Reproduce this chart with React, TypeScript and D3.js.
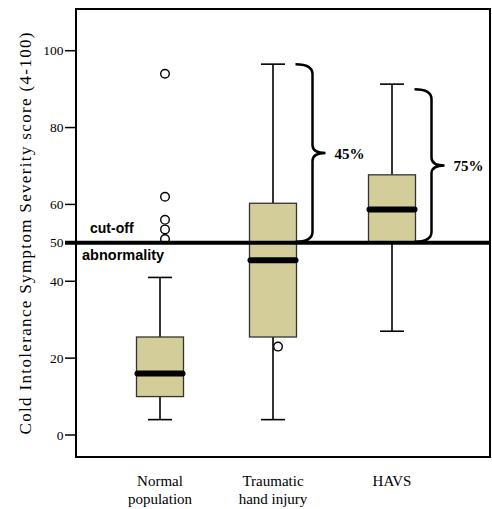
import React from "react";
import * as d3 from "d3";

const categories = ["Normal population", "Traumatic hand injury", "HAVS"];
const categoryLines = [["Normal", "population"], ["Traumatic", "hand injury"], ["HAVS"]];
const whiskerLow = [4, 4, 27];
const q1 = [10, 25.5, 50.3];
const median = [16, 45.5, 58.7];
const q3 = [25.5, 60.3, 67.7];
const whiskerHigh = [41, 96.5, 91.3];
const outliers = [[94, 62, 56, 53.5, 51], [23], []];
const yTicks = [0, 20, 40, 50, 60, 80, 100];
const cutoff = 50;
const braces = [
  { cat: 1, low: 50, high: 96.5, label: "45%" },
  { cat: 2, low: 50, high: 90, label: "75%" },
];

const SERIF = "'Liberation Serif', 'Times New Roman', Times, serif";
const SANS = "'Liberation Sans', Arial, Helvetica, sans-serif";

export default function App() {
  const W = 492, H = 509;
  const left = 76, right = 490, top = 9, bottom = 457;
  const y = d3.scaleLinear().domain([0, 100]).range([435, 50.7]);
  const x = d3.scaleOrdinal<string, number>().domain(categories).range([160, 273, 392]);
  const bw = 47;
  const capW = 24;

  const bracePath = (x0: number, yTop: number, yBot: number, xv: number, xt: number) => {
    const ym = (yTop + yBot) / 2;
    const r = 10;
    const p = d3.path();
    p.moveTo(x0, yTop);
    p.quadraticCurveTo(xv, yTop, xv, yTop + r);
    p.lineTo(xv, ym - r * 0.8);
    p.quadraticCurveTo(xv, ym, xt, ym);
    p.quadraticCurveTo(xv, ym, xv, ym + r * 0.8);
    p.lineTo(xv, yBot - r);
    p.quadraticCurveTo(xv, yBot, x0, yBot);
    return p.toString();
  };

  return (
    <svg width={W} height={H} style={{ position: "absolute", left: 0, top: 0 }}>
      <rect x={0} y={0} width={W} height={H} fill="white" />
      <path d={`M${left},${top}H${right}V${bottom}H${left}Z`} fill="none" stroke="black" strokeWidth={2} />
      {yTicks.map((t) => (
        <g key={t}>
          <line x1={left - 11} x2={left} y1={y(t)} y2={y(t)} stroke="black" strokeWidth={1.5} />
          <text x={left - 12.5} y={y(t) + 4.5} textAnchor="end" style={{ fontFamily: SERIF }} fontSize={13.5}>
            {t}
          </text>
        </g>
      ))}
      <text
        transform={`translate(31,233.5) rotate(-90)`}
        textAnchor="middle"
        style={{ fontFamily: SERIF }}
        fontSize={17}
        textLength={402}
        lengthAdjust="spacing"
      >
        Cold Intolerance Symptom Severity score (4-100)
      </text>
      {categories.map((c, i) => {
        const cx = x(c);
        return (
          <g key={c}>
            <line x1={cx} x2={cx} y1={y(whiskerLow[i])} y2={y(q1[i])} stroke="black" strokeWidth={1.6} />
            <line x1={cx} x2={cx} y1={y(q3[i])} y2={y(whiskerHigh[i])} stroke="black" strokeWidth={1.6} />
            <line x1={cx - capW / 2} x2={cx + capW / 2} y1={y(whiskerLow[i])} y2={y(whiskerLow[i])} stroke="black" strokeWidth={1.6} />
            <line x1={cx - capW / 2} x2={cx + capW / 2} y1={y(whiskerHigh[i])} y2={y(whiskerHigh[i])} stroke="black" strokeWidth={1.6} />
            <rect x={cx - bw / 2} y={y(q3[i])} width={bw} height={y(q1[i]) - y(q3[i])} fill="#d3cd9a" stroke="#333" strokeWidth={1.3} />
            {outliers[i].map((o, j) => (
              <circle key={j} cx={cx + 5} cy={y(o)} r={4.3} fill="white" stroke="black" strokeWidth={1.4} />
            ))}
          </g>
        );
      })}
      <line x1={left - 11} x2={right} y1={y(cutoff)} y2={y(cutoff)} stroke="black" strokeWidth={4} />
      {categories.map((c, i) => {
        const cx = x(c);
        return (
          <line key={c} x1={cx - bw / 2 + 1} x2={cx + bw / 2 - 1} y1={y(median[i])} y2={y(median[i])} stroke="black" strokeWidth={6} strokeLinecap="round" />
        );
      })}
      <text x={90} y={233} style={{ fontFamily: SANS }} fontWeight="bold" fontSize={14}>cut-off</text>
      <text x={82} y={260} style={{ fontFamily: SANS }} fontWeight="bold" fontSize={14.5}>abnormality</text>
      {braces.map((b) => {
        const cx = x(categories[b.cat]);
        const x0 = cx + bw / 2 - 1;
        const xv = x0 + 17;
        const xt = x0 + 30;
        const ym = (y(b.high) + y(b.low)) / 2;
        return (
          <g key={b.label}>
            <path d={bracePath(x0, y(b.high), y(b.low) - 1, xv, xt)} fill="none" stroke="black" strokeWidth={2.5} />
            <text x={xt + 9} y={ym + 5} style={{ fontFamily: SERIF }} fontWeight="bold" fontSize={15}>
              {b.label}
            </text>
          </g>
        );
      })}
      {categories.map((c, i) => (
        <text key={c} textAnchor="middle" style={{ fontFamily: SERIF }} fontSize={15}>
          {categoryLines[i].map((l, j) => (
            <tspan key={j} x={x(c)} y={486 + j * 17.5}>{l}</tspan>
          ))}
        </text>
      ))}
    </svg>
  );
}
